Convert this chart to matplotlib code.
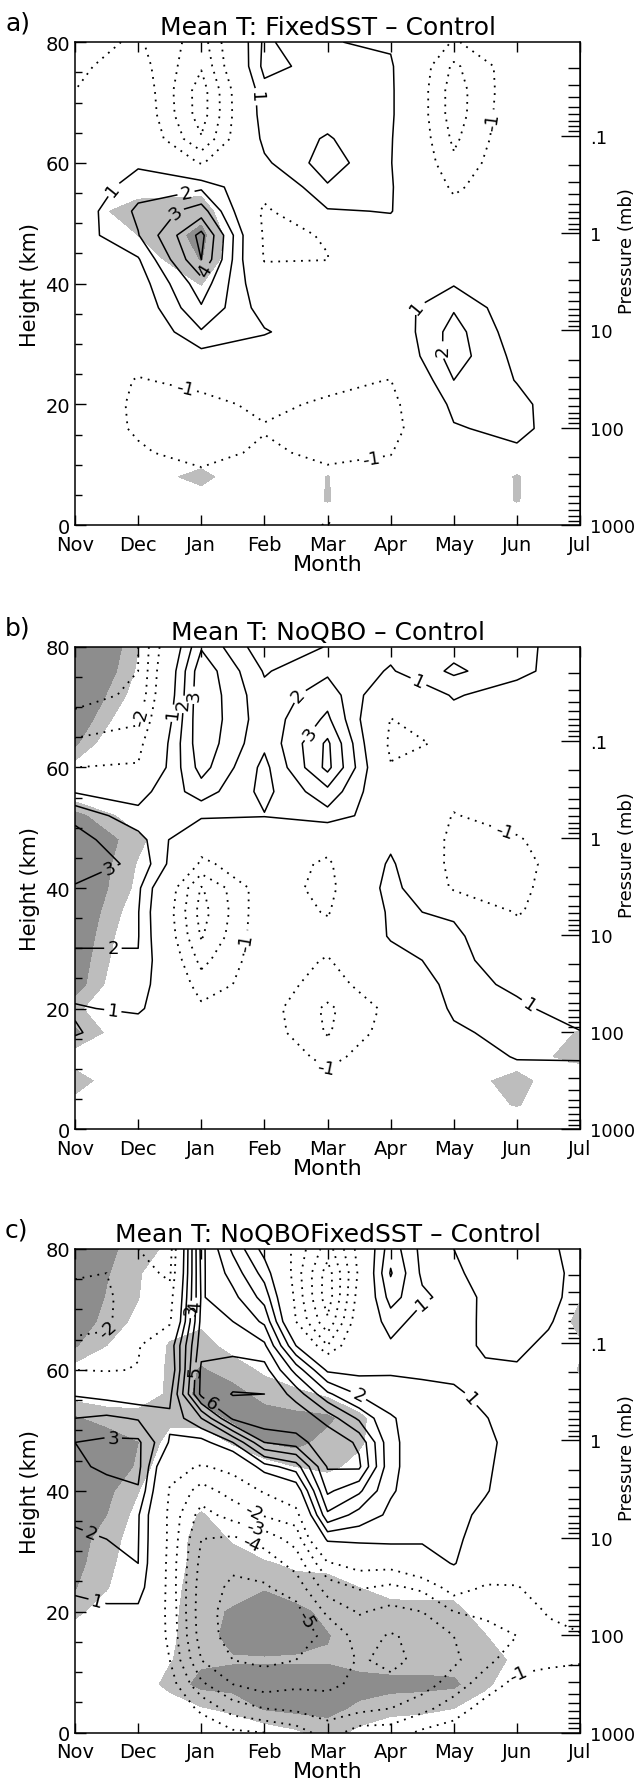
import matplotlib.pyplot as plt
import numpy as np

months = ["Nov", "Dec", "Jan", "Feb", "Mar", "Apr", "May", "Jun", "Jul"]
month_pos = [0, 1, 2, 3, 4, 5, 6, 7, 8]
half_pos = [0, 0.5, 1, 1.5, 2, 2.5, 3, 3.5, 4, 4.5, 5, 5.5, 6, 6.5, 7, 7.5, 8]
# rows of every grid run from 80 km (top) down to 0 km
heights = [80, 76, 72, 68, 64, 60, 56, 52, 48, 44, 40, 36, 32, 28, 24, 20, 16, 12, 8, 4, 0]

pressures = [1000, 100, 10, 1, 0.1]
pressure_labels = ["1000", "100", "10", "1", ".1"]
pressure_minor = [900, 800, 700, 600, 500, 400, 300, 200,
                  90, 80, 70, 60, 50, 40, 30, 20,
                  9, 8, 7, 6, 5, 4, 3, 2,
                  0.9, 0.8, 0.7, 0.6, 0.5, 0.4, 0.3, 0.2,
                  0.09, 0.08, 0.07, 0.06, 0.05, 0.04, 0.03, 0.02]

# ---- a) FixedSST - Control (monthly columns Nov..Jul)
temp_a = [
    [-1.4, -0.85, -2.5, 2.2, 1.05, 0.85, -1.1, -0.1, 0],
    [-1.2, -0.5, -2.9, 2.3, 1.6, 1.15, -2.2, -0.3, 0],
    [-1.0, -0.1, -3.5, 1.7, 1.5, 1.2, -2.5, -0.2, 0],
    [-0.8, 0.05, -3.5, 1.6, 1.6, 1.2, -2.5, -0.1, 0],
    [-0.6, 0.3, -2.9, 1.3, 2.1, 1.1, -2.2, -0.1, 0],
    [-0.4, 0.8, -1.1, 0.8, 2.5, 1.05, -1.8, 0, 0],
    [0.0, 1.6, 1.8, -0.4, 1.9, 1.1, -1.2, -0.1, 0],
    [0.3, 2.2, 3.5, -1.3, 0.9, 1.05, -0.6, -0.2, 0],
    [0.4, 1.95, 5.3, -1.2, -0.95, 0.5, 0, -0.1, 0],
    [0.2, 0.9, 5.0, -1.1, -1.02, 0.2, 0.4, 0, 0],
    [0.0, 0.4, 3.6, -0.1, -0.3, 0.3, 0.9, 0, 0],
    [-0.1, 0.1, 2.9, 0.5, -0.1, 0.4, 1.9, 0.2, 0],
    [-0.2, -0.2, 1.9, 1.1, 0.2, 0.1, 2.4, 0.4, 0],
    [-0.3, -0.7, 0.6, 0.3, -0.2, -0.3, 2.5, 0.7, 0],
    [-0.5, -1.05, -0.8, -0.5, -0.8, -1.02, 2.0, 0.95, 0],
    [-0.6, -1.1, -1.2, -0.85, -1.1, -1.4, 1.3, 1.3, 0.1],
    [-0.5, -1.1, -1.5, -1.05, -1.3, -1.5, 0.9, 1.3, 0.2],
    [-0.3, -0.9, -1.3, -0.85, -1.2, -1.05, 0.5, 0.8, 0.1],
    [-0.1, -0.5, -0.8, -0.5, -0.8, -0.6, 0.2, 0.4, 0],
    [0, -0.2, -0.3, -0.2, -0.3, -0.2, 0.1, 0.2, 0],
    [0, 0, 0, 0, -1.1, 0, 0, 0, 0],
]
signif_a = [
    [0, 0, 0, 0, 0, 0, 0, 0, 0],
    [0, 0, 0, 0, 0, 0, 0, 0, 0],
    [0, 0, 0, 0, 0, 0, 0, 0, 0],
    [0, 0, 0, 0, 0, 0, 0, 0, 0],
    [0, 0, 0, 0, 0, 0, 0, 0, 0],
    [0, 0, 0, 0, 0, 0, 0, 0, 0],
    [0, 0.5, 0.6, 0, 0, 0, 0, 0, 0],
    [0.4, 1.5, 1.6, -1.5, 0, 0, 0, 0, 0],
    [0.5, 1.0, 2.3, -1.5, 0, 0, 0, 0, 0],
    [0, 0.3, 2.05, -1.5, 0, 0, 0, 0, 0],
    [0, 0, 1.05, -1.5, 0, 0, 0, 0, 0],
    [0, 0, 0.3, 0, 0, 0, 0, 0, 0],
    [0, 0, 0, 0, 0, 0, 0, 0, 0],
    [0, 0, 0, 0, 0, 0, 0, 0, 0],
    [0, 0, 0, 0, 0, 0, 0, 0, 0],
    [0, 0, 0, 0, 0, 0, 0, 0, 0],
    [0, 0, 0, 0, 0, 0, 0, 0, 0],
    [0, 0, 0.2, 0, 0, 0, 0, 0, 0],
    [0, 0.3, 1.4, -0.5, 1.05, -0.5, -0.5, 1.1, -0.5],
    [0, 0, 0.3, 0, 1.05, 0, 0, 1.05, 0],
    [0, 0, 0, 0, 0, 0, 0, 0, 0],
]

# ---- b) NoQBO - Control
temp_b = [
    [-3.6, -3.0, 2.9, 0.3, 1.05, 1.3, 1.6, 1.2, 0.6],
    [-3.6, -3.0, 3.7, 0.9, 1.8, 0.9, 2.2, 1.3, 0.3],
    [-3.4, -2.8, 3.8, 1.3, 2.6, -0.2, 1.1, 0.5, 0],
    [-2.7, -2.2, 3.8, 1.4, 3.2, -1.05, 0.6, 0.2, 0],
    [-1.8, -1.4, 3.7, 1.2, 4.2, -1.3, -0.8, 0, 0],
    [-1.0, -0.9, 3.4, 0.7, 4.3, -0.9, -0.6, 0, 0],
    [0.9, 0.6, 2.5, 0.7, 2.7, -0.3, -0.7, -0.2, 0],
    [2.8, 1.3, 1.2, 1.05, 1.6, 0.2, -1.05, -0.6, -0.2],
    [3.3, 2.4, -0.5, -0.2, -0.5, 0.7, -1.3, -1.1, -0.3],
    [3.5, 2.8, -1.2, -0.3, -1.2, 1.2, -1.4, -1.3, -0.4],
    [2.9, 2.2, -3.1, -0.3, -1.4, 1.5, -1.2, -1.2, -0.4],
    [2.5, 2.05, -3.4, -0.2, -1.1, 1.2, 0.8, -1.1, -0.2],
    [2.2, 2.05, -3.1, -0.2, -0.5, 1.1, 1.3, -0.4, 0],
    [1.8, 1.95, -2.3, -0.3, -1.1, 0.6, 1.4, 0.2, 0],
    [1.4, 1.6, -1.5, -0.5, -1.4, -0.3, 1.4, 0.8, 0.2],
    [0.9, 1.2, -0.8, -0.5, -2.2, -0.7, 1.2, 1.2, 0.5],
    [1.1, 0.3, -0.3, -0.4, -2.1, -0.5, 0.8, 1.4, 1.05],
    [0.3, 0.1, 0, -0.2, -1.3, -0.3, 0.2, 1.1, 1.1],
    [0.1, 0, 0, 0, -0.7, 0, 0, 0.3, 0.5],
    [0, 0, 0, 0, -0.2, 0, 0, 0, 0],
    [0, 0, 0, 0, 0, 0, 0, 0, 0],
]
signif_b = [
    [4.7, 1.05, -2, -1, -1, -1, 0, 0, 0],
    [4.3, 0.8, -2, -1, -1, -1, 0, 0, 0],
    [3.5, 0.4, -2, -1, -1, -1, 0, 0, 0],
    [3.0, -0.45, -2, -1, -1, -1, 0, 0, 0],
    [2.2, -1.5, -2, -1, -1, -1, 0, 0, 0],
    [0.5, -1, -1, -1, -1, -1, 0, 0, 0],
    [0.0, -1, -1, -1, -1, -1, 0, 0, 0],
    [2.4, 0.2, -1, -1, -1, -1, 0, 0, 0],
    [3.5, 1.3, -1, -1, -1, -1, 0, 0, 0],
    [3.5, 0.9, -1, -1, -1, -1, 0, 0, 0],
    [3.4, 0.7, -1, -1, -1, -1, 0, 0, 0],
    [3.2, 0.2, -1, -1, -1, -1, 0, 0, 0],
    [3.0, -0.2, -1, -1, -1, -1, 0, 0, 0],
    [2.8, -0.5, -1, -1, -1, -1, 0, 0, 0],
    [2.6, -0.9, -1, -1, -1, -1, 0, 0, 0],
    [1.3, -1.0, -1, -1, -1, -1, 0, 0, -0.5],
    [2.2, -0.5, -1, -1, -1, -1, 0, 0.0, 1.1],
    [0.3, -0.5, -1, -1, -1, -1, 0, 0.2, 1.6],
    [1.6, -0.5, -1, -1, -1, -1, 0.25, 1.5, -0.5],
    [0.5, -0.5, -1, -1, -1, -1, 0.1, 1.1, -0.5],
    [0, 0, -1, -1, -1, -1, 0, -0.5, 0],
]

# ---- c) NoQBOFixedSST - Control (half-month columns Nov..Jul)
temp_c = [
    [-1.6, -1.8, -2.0, -2.5, 5.3, 2.8, 0.6, -1.3, -3.5, -0.6, 2.6, 0.7, 1.0, 1.3, 1.3, 1.2, 0.6],
    [-1.9, -2.0, -1.6, -2.2, 5.2, 3.6, 1.6, -1.5, -4.5, -0.8, 3.1, 0.8, 0.9, 1.2, 1.4, 1.3, 0.7],
    [-2.3, -2.2, -1.3, -1.6, 5.1, 4.3, 2.6, -1.3, -4.6, -0.5, 2.4, 1.2, 0.6, 1.15, 1.4, 1.3, 0.6],
    [-2.3, -2.2, -1.1, -1.2, 5.3, 5.0, 3.8, -1.0, -3.8, -0.2, 1.5, 0.5, 0.5, 1.2, 1.3, 1.1, 0.4],
    [-1.8, -1.7, -1.1, 0.3, 5.6, 5.6, 5.2, 1.0, -2.0, 0.3, 0.8, 0.5, 0.5, 1.2, 1.2, 0.8, 0.2],
    [-1.0, -1.1, -0.95, 0.0, 6.2, 6.5, 6.4, 3.6, 0.8, 0.7, 0.85, 0.8, 0.7, 0.8, 0.9, 0.5, 0.1],
    [0.9, 0.6, 0.3, 0.7, 6.3, 7.05, 7.0, 5.6, 3.2, 1.9, 1.5, 1.3, 1.2, 0.7, 0.6, 0.3, 0],
    [2.0, 2.2, 1.9, 1.2, 3.0, 6.2, 6.8, 6.8, 5.6, 3.8, 2.1, 1.5, 1.4, 1.05, 0.5, 0.2, 0],
    [3.0, 3.2, 3.2, 0.9, 0.6, 2.0, 5.0, 5.5, 6.8, 5.8, 2.2, 1.5, 1.5, 1.3, 0.5, 0.1, 0],
    [2.9, 3.1, 3.3, -0.6, -1.1, -0.7, 1.6, 2.5, 6.1, 6.2, 2.2, 1.5, 1.5, 1.2, 0.4, 0.1, 0],
    [2.6, 2.8, 2.9, -1.1, -2.4, -1.6, -0.9, 0.2, 5.2, 4.2, 2.1, 1.5, 1.5, 1.1, 0.3, 0.0, 0],
    [2.1, 2.3, 2.1, -1.3, -3.4, -2.6, -1.9, -1.5, 3.8, 2.6, 1.8, 1.4, 1.4, 0.7, 0.2, 0.0, 0],
    [1.9, 2.0, 2.05, -1.3, -4.0, -4.2, -3.6, -2.6, 1.2, 1.3, 1.4, 1.2, 1.3, 0.3, 0.0, -0.1, -0.1],
    [1.6, 1.8, 2.0, -1.4, -4.3, -4.8, -4.6, -3.6, -1.1, -0.6, -0.6, 0.2, 1.1, -0.3, -0.5, -0.3, -0.2],
    [1.15, 1.4, 1.6, -1.4, -4.5, -5.2, -5.1, -4.6, -2.5, -1.9, -2.2, -1.8, -0.5, -1.1, -1.05, -0.6, -0.4],
    [0.7, 0.8, 0.7, -1.3, -4.6, -5.4, -5.6, -5.3, -3.8, -2.9, -3.3, -3.0, -2.0, -1.8, -1.6, -0.9, -0.7],
    [0.3, 0.3, 0.3, -1.2, -4.5, -5.4, -5.7, -5.4, -4.8, -3.6, -4.1, -3.7, -3.0, -2.4, -2.0, -1.3, -1.05],
    [0.1, 0.1, 0.1, -1.0, -4.0, -5.0, -5.2, -5.0, -4.7, -3.9, -4.2, -3.8, -3.2, -2.3, -1.4, -1.2, -1.1],
    [0, 0, 0, -0.5, -2.8, -4.0, -4.5, -4.2, -4.2, -3.8, -3.8, -3.5, -2.5, -1.5, -0.7, -0.6, -0.5],
    [0, 0, 0, -0.2, -1.2, -2.5, -3.0, -3.2, -3.5, -3.3, -3.0, -2.3, -1.5, -0.6, -0.4, -0.2, -0.1],
    [0, 0, 0, 0, -0.3, -0.8, -1.0, -1.5, -2.5, -1.5, -1.5, -0.8, -0.5, -0.1, -0.1, 0, 0],
]
signif_c = [
    [4.0, 2.4, 1.3, 0.85, -1, 0, 0, 0, 0, 0, 0, 0, 0, 0, 0, 0, 0],
    [3.5, 2.1, 1.1, 0.2, -0.5, 0, 0, 0, 0, 0, 0, 0, 0, 0, 0, 0, 0],
    [3.2, 1.9, 1.05, -0.5, 0, 0, 0, 0, 0, 0, 0, 0, 0, 0, 0, 0, 0.9],
    [2.8, 1.6, 0.7, 0.5, 0.8, 0, 0, 0, 0, 0, 0, 0, 0, 0, 0, 0, 1.4],
    [2.1, 1.0, 0, 1.1, 1.4, 0.6, 0, 0, 0, 0, 0, 0, 0, 0, 0, 0, 0.8],
    [0.5, 0, 0, 1.2, 2.1, 1.5, 0.8, 0, 0, 0, 0, 0, 0, 0, 0, 0, 1.1],
    [0.5, 0.3, 0.2, 1.2, 2.3, 2.4, 1.6, 1.3, 0.8, 0, 0, 0, 0, 0, 0, 0, 0.5],
    [2.1, 1.6, 1.5, 1.3, 1.4, 2.2, 2.5, 2.3, 2.2, 1.3, 0, 0, 0, 0, 0, 0, 0],
    [3.0, 2.6, 2.0, 0.55, 0.3, 1.1, 2.0, 2.3, 1.6, 1.2, 0, 0, 0, 0, 0, 0, 0],
    [3.0, 2.5, 1.9, -0.35, 0, 0, 0.5, 1.0, 1.3, 0.6, 0, 0, 0, 0, 0, 0, 0],
    [2.6, 2.3, 1.05, -0.5, 0, 0, 0, 0, 0, 0, 0, 0, 0, 0, 0, 0, 0],
    [2.5, 2.0, 0.6, 0, 1.15, 0, 0, 0, 0, 0, 0, 0, 0, 0, 0, 0, 0],
    [2.4, 1.6, 0.3, 0.3, 1.5, 0.9, 0.3, 0, 0, 0, 0, 0, 0, 0, 0, 0, 0],
    [2.3, 1.4, 0, 0.4, 1.5, 1.4, 1.1, 0.8, 0.6, 0.3, 0, 0, 0, 0, 0, 0, 0],
    [2.05, 1.1, -0.3, 0.6, 1.6, 1.6, 1.9, 1.4, 1.5, 1.0, 0.6, 0.5, 0.5, 0, 0, 0, 0],
    [1.3, 0.3, 0, 0.7, 1.7, 2.1, 2.6, 2.3, 1.7, 1.5, 1.4, 1.4, 1.4, 0.3, 0, 0, 0],
    [0.3, 0, 0, 0.8, 1.6, 2.3, 2.5, 2.3, 2.05, 1.5, 1.4, 1.4, 1.4, 1.05, 0, 0, 0],
    [0, 0, 0, 0.9, 1.8, 1.9, 1.9, 1.9, 1.9, 1.6, 1.5, 1.5, 1.5, 1.4, 0.8, 0, 0],
    [0, 0, 0.2, 1.4, 2.3, 2.4, 2.5, 2.5, 2.5, 2.4, 2.3, 2.3, 2.2, 1.2, 0.3, 0, 0],
    [0, 0, 0, 0.2, 0.9, 1.3, 2.1, 2.3, 2.3, 1.8, 1.5, 1.3, 1.0, 0.4, 0, 0, 0],
    [0, 0, 0, 0, 0, 0, 0.3, 0.8, 1.5, 0.7, 0, 0, 0, 0, 0, 0, 1.05],
]

titles = ["Mean T: FixedSST \u2013 Control",
          "Mean T: NoQBO \u2013 Control",
          "Mean T: NoQBOFixedSST \u2013 Control"]
panel_tags = ["a)", "b)", "c)"]

# where the contour labels sit (month, km)
labels_pos = [
    [(0.55, 56), (1.75, 55.4), (1.6, 51.8), (2.08, 42), (2.95, 71), (5.4, 36.5), (5.75, 29)],
    [(1.55, 69), (1.68, 70.5), (1.85, 72), (3.42, 72.9), (3.6, 66.6), (5.45, 74.5),
     (0.6, 42), (0.6, 30.3), (0.6, 19.8), (7.22, 21.1)],
    [(1.83, 70), (1.91, 70.5), (1.9, 59.8), (2.2, 55), (4.5, 56), (5.5, 71), (6.2, 54.5),
     (0.6, 47.3), (0.27, 33.5), (0.37, 22.7)],
]
labels_neg = [
    [(1.75, 22.7), (4.7, 10.1), (6.6, 66.9)],
    [(1.0, 68.5), (2.72, 31), (4.0, 10.7), (6.67, 45.5)],
    [(0.7, 65.6), (2.8, 36.2), (2.85, 33.9), (2.8, 31.5), (3.3, 16.5), (7.0, 10.6)],
]

fields = [(month_pos, temp_a, signif_a), (month_pos, temp_b, signif_b), (half_pos, temp_c, signif_c)]

ax_boxes = [[0.118, 0.7061, 0.794, 0.2698],
            [0.118, 0.3687, 0.794, 0.2693],
            [0.118, 0.0315, 0.794, 0.2702]]

z_up = np.array(heights[::-1])

fig = plt.figure(figsize=(6.36, 17.90), dpi=100)

for i in range(3):
    xgrid, temp, sig = fields[i]
    T = np.array(temp)[::-1]
    S = np.array(sig)[::-1]
    ax = fig.add_axes(ax_boxes[i])
    ax.contourf(xgrid, z_up, S, levels=[1, 2, 100], colors=["#bdbdbd", "#8d8d8d"])
    cs_pos = ax.contour(xgrid, z_up, T, levels=[1, 2, 3, 4, 5, 6, 7],
                        colors="black", linewidths=1.1, linestyles="solid")
    cs_neg = ax.contour(xgrid, z_up, T, levels=[-7, -6, -5, -4, -3, -2, -1],
                        colors="black", linewidths=1.3, linestyles=[(0, (1, 3.2))])
    ax.clabel(cs_pos, inline=True, fontsize=13, fmt=lambda v: "%d" % v,
              manual=labels_pos[i], inline_spacing=3)
    ax.clabel(cs_neg, inline=True, fontsize=13, fmt=lambda v: "-%d" % abs(v),
              manual=labels_neg[i], inline_spacing=3)

    ax.set_xlim(0, 8)
    ax.set_ylim(0, 80)
    ax.set_xticks(month_pos)
    ax.set_xticklabels(months, fontsize=14)
    ax.set_yticks([0, 20, 40, 60, 80])
    ax.set_yticklabels(["0", "20", "40", "60", "80"], fontsize=14)
    ax.set_yticks(np.arange(0, 81, 5), minor=True)
    ax.tick_params(axis="x", direction="in", top=True, length=7, width=1, pad=7)
    ax.tick_params(axis="y", which="major", direction="in", left=True, right=False, length=8, width=1)
    ax.tick_params(axis="y", which="minor", direction="in", left=True, right=False, length=5, width=1)
    ax.set_xlabel("Month", fontsize=16, labelpad=0)
    ax.set_ylabel("Height (km)", fontsize=15, labelpad=4)
    for sp in ax.spines.values():
        sp.set_linewidth(1.1)

    sec = ax.secondary_yaxis("right", functions=(lambda z: 1000 * np.exp(-np.asarray(z) / 7.0),
                                                  lambda p: -7.0 * np.log(np.clip(p, 1e-6, None) / 1000.0)))
    sec.set_yticks(pressures)
    sec.set_yticklabels(pressure_labels, fontsize=13)
    sec.set_yticks(pressure_minor, minor=True)
    sec.tick_params(which="major", direction="in", length=14, width=1, pad=7)
    sec.tick_params(which="minor", direction="in", length=9, width=1)

    ax.set_title(titles[i], fontsize=18, pad=6)
    bb = ax_boxes[i]
    fig.text(0.008, bb[1] + bb[3] + 0.004, panel_tags[i], fontsize=18, ha="left", va="bottom")
    fig.text(0.986, bb[1] + bb[3] * 0.57, "Pressure (mb)", fontsize=13, rotation=90,
             ha="center", va="center")

fig.savefig("out.png", dpi=100)
